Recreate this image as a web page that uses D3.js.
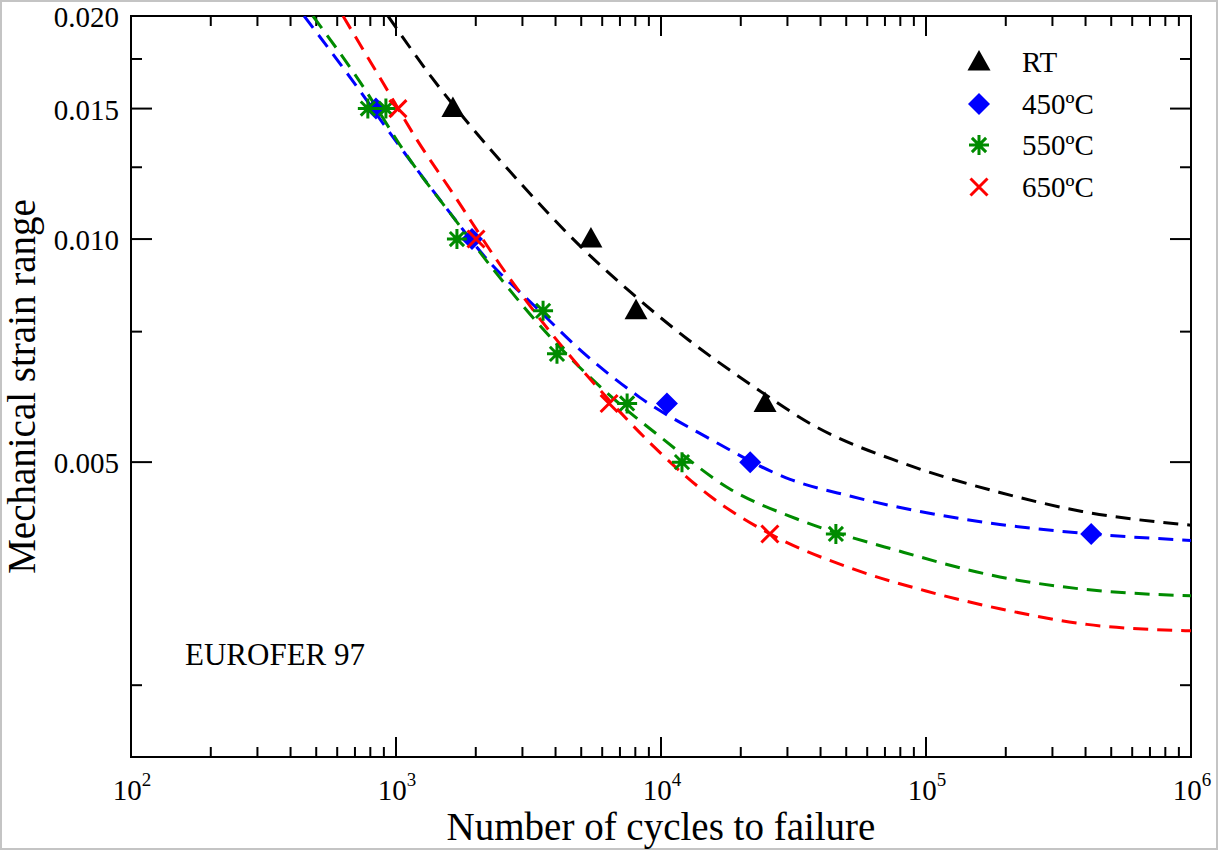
<!DOCTYPE html>
<html>
<head>
<meta charset="utf-8">
<script src="https://cdn.jsdelivr.net/npm/d3@7"></script>
<style>
  html, body { margin: 0; padding: 0; background: #fff; }
  svg { display: block; font-family: "Liberation Serif", "Times New Roman", serif; }
</style>
</head>
<body>
<svg id="chart" width="1218" height="850"></svg>
<script>
// ---------- data ----------
const xTickPowers = [2, 3, 4, 5, 6];
const yMajorTicks = [0.005, 0.010, 0.015, 0.020];
const yMinorTicks = [0.0025, 0.0075, 0.0125, 0.0175];
const yTickLabels = ["0.005", "0.010", "0.015", "0.020"];

const seriesNames = ["RT", "450ºC", "550ºC", "650ºC"];
const seriesColors = ["#000000", "#0000ff", "#008b00", "#ff0000"];
const seriesSymbols = ["triangle", "diamond", "star", "cross"];

// measured points (cycles to failure, strain range)
const rtN = [1640, 5440, 8050, 24700];
const rtS = [0.015, 0.010, 0.008, 0.006];
const t450N = [840, 1936, 10530, 21700, 420000];
const t450S = [0.015, 0.010, 0.006, 0.005, 0.004];
const t550N = [783, 916, 1698, 3589, 4050, 7450, 12000, 45700];
const t550S = [0.015, 0.015, 0.010, 0.008, 0.007, 0.006, 0.005, 0.004];
const t650N = [1017, 2004, 6370, 25760];
const t650S = [0.015, 0.010, 0.006, 0.004];

// fitted curves
const fitRtN = [933, 1368, 1936, 2985, 5035, 7640, 12640, 21680, 38800, 79800, 190000, 388000, 1000000];
const fitRtS = [0.0200, 0.0165, 0.01413, 0.01184, 0.00973, 0.00849, 0.00732, 0.00637, 0.00557, 0.00500, 0.00455, 0.00429, 0.00411];
const fit450N = [450, 682, 1009, 1493, 2265, 3289, 5035, 8340, 14930, 30700, 51600, 190000, 420000, 1000000];
const fit450S = [0.0200, 0.0164, 0.01349, 0.0112, 0.00929, 0.00816, 0.00705, 0.00611, 0.0054, 0.00474, 0.0045, 0.00412, 0.0040, 0.00392];
const fit550N = [486, 731, 1109, 1671, 2466, 3811, 6040, 10190, 18200, 32600, 79800, 190000, 388000, 1000000];
const fit550S = [0.0200, 0.0163, 0.01291, 0.01062, 0.00887, 0.00738, 0.00627, 0.00537, 0.0046, 0.00419, 0.00379, 0.0035, 0.00337, 0.0033];
const fit650N = [631, 893, 1200, 1625, 2466, 3811, 5780, 9080, 15310, 25800, 51600, 100000, 190000, 405000, 1000000];
const fit650S = [0.0200, 0.01625, 0.01361, 0.01158, 0.00924, 0.0075, 0.0063, 0.00531, 0.0045, 0.0040, 0.0036, 0.00335, 0.00317, 0.00302, 0.00296];

const pointsN = [rtN, t450N, t550N, t650N];
const pointsS = [rtS, t450S, t550S, t650S];
const fitsN = [fitRtN, fit450N, fit550N, fit650N];
const fitsS = [fitRtS, fit450S, fit550S, fit650S];

// ---------- layout ----------
const L = 131, R = 1191, T = 16, B = 757;
const svg = d3.select("#chart");

const x = d3.scaleLog().domain([1e2, 1e6]).range([L, R]);
const y = d3.scaleLog().domain([0.002, 0.02]).range([B, T]);

// outer light frame
svg.append("rect").attr("x", 1).attr("y", 1).attr("width", 1216).attr("height", 848)
  .attr("fill", "none").attr("stroke", "#c4c4c4").attr("stroke-width", 2);

svg.append("defs").append("clipPath").attr("id", "clip")
  .append("rect").attr("x", L).attr("y", T).attr("width", R - L).attr("height", B - T);

// ---------- ticks ----------
const tickG = svg.append("g").attr("stroke", "#000").attr("stroke-width", 2);
const xMinor = [];
for (let p = 2; p < 6; p++) for (let k = 2; k <= 9; k++) xMinor.push(k * Math.pow(10, p));
const xMajor = xTickPowers.map(p => Math.pow(10, p));

function vTicks(vals, len) {
  vals.forEach(v => {
    const px = x(v);
    tickG.append("line").attr("x1", px).attr("x2", px).attr("y1", B).attr("y2", B - len);
    tickG.append("line").attr("x1", px).attr("x2", px).attr("y1", T).attr("y2", T + len);
  });
}
function hTicks(vals, len) {
  vals.forEach(v => {
    const py = y(v);
    tickG.append("line").attr("x1", L).attr("x2", L + len).attr("y1", py).attr("y2", py);
    tickG.append("line").attr("x1", R).attr("x2", R - len).attr("y1", py).attr("y2", py);
  });
}
vTicks(xMinor, 10);
vTicks(xMajor.slice(1, -1), 20);
hTicks(yMinorTicks, 11);
hTicks(yMajorTicks.slice(0, -1), 21);

// frame
svg.append("rect").attr("x", L).attr("y", T).attr("width", R - L).attr("height", B - T)
  .attr("fill", "none").attr("stroke", "#000").attr("stroke-width", 2);

// tick labels
yMajorTicks.forEach((v, i) => {
  svg.append("text").attr("x", 119).attr("y", y(v) + 11)
    .attr("text-anchor", "end").attr("font-size", 29).text(yTickLabels[i]);
});
xTickPowers.forEach(p => {
  const t = svg.append("text").attr("x", x(Math.pow(10, p)) + 1).attr("y", 800)
    .attr("text-anchor", "middle").attr("font-size", 29);
  t.append("tspan").text("10");
  t.append("tspan").attr("font-size", 19).attr("dy", -14).text(String(p));
});

// axis titles
svg.append("text").attr("x", (L + R) / 2).attr("y", 840).attr("text-anchor", "middle")
  .attr("font-size", 39).text("Number of cycles to failure");
svg.append("text").attr("transform", `translate(35,${(T + B) / 2}) rotate(-90)`)
  .attr("text-anchor", "middle").attr("font-size", 39).text("Mechanical strain range");

svg.append("text").attr("x", 185).attr("y", 665).attr("font-size", 31).text("EUROFER 97");

// ---------- curves ----------
const plotG = svg.append("g").attr("clip-path", "url(#clip)");
const line = d3.line().x(d => x(d[0])).y(d => y(d[1])).curve(d3.curveMonotoneX);
fitsN.forEach((ns, i) => {
  const pts = ns.map((n, j) => [n, fitsS[i][j]]);
  plotG.append("path").attr("d", line(pts)).attr("fill", "none")
    .attr("stroke", seriesColors[i]).attr("stroke-width", 3)
    .attr("stroke-dasharray", "15,9");
});

// ---------- symbols ----------
function drawSymbol(g, type, cx, cy, color) {
  if (type === "triangle") {
    g.append("path").attr("d", `M${cx},${cy - 12}L${cx + 11.5},${cy + 8.5}L${cx - 11.5},${cy + 8.5}Z`)
      .attr("fill", color);
  } else if (type === "diamond") {
    g.append("path").attr("d", `M${cx},${cy - 11}L${cx + 11},${cy}L${cx},${cy + 11}L${cx - 11},${cy}Z`)
      .attr("fill", color);
  } else if (type === "star") {
    const r = 10, d = 7.1;
    g.append("path").attr("d",
      `M${cx - r},${cy}L${cx + r},${cy}M${cx},${cy - r}L${cx},${cy + r}` +
      `M${cx - d},${cy - d}L${cx + d},${cy + d}M${cx - d},${cy + d}L${cx + d},${cy - d}`)
      .attr("stroke", color).attr("stroke-width", 3).attr("fill", "none");
  } else if (type === "cross") {
    const d = 8.5;
    g.append("path").attr("d",
      `M${cx - d},${cy - d}L${cx + d},${cy + d}M${cx - d},${cy + d}L${cx + d},${cy - d}`)
      .attr("stroke", color).attr("stroke-width", 3).attr("fill", "none");
  }
}
const symG = svg.append("g");
pointsN.forEach((ns, i) => {
  ns.forEach((n, j) => drawSymbol(symG, seriesSymbols[i], x(n), y(pointsS[i][j]), seriesColors[i]));
});

// ---------- legend ----------
const legendRows = [62, 104, 145, 187];
seriesNames.forEach((name, i) => {
  drawSymbol(svg, seriesSymbols[i], 979, legendRows[i], seriesColors[i]);
  svg.append("text").attr("x", 1022).attr("y", legendRows[i] + 10)
    .attr("font-size", 29).text(name);
});
</script>
</body>
</html>
